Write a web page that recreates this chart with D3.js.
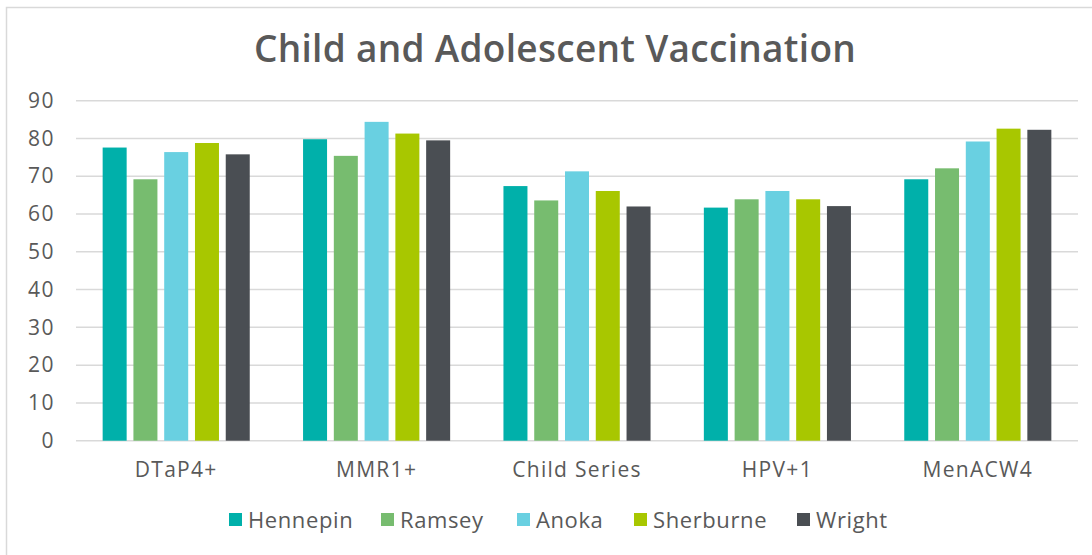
<!DOCTYPE html>
<html>
<head>
<meta charset="utf-8">
<script src="https://cdn.jsdelivr.net/npm/d3@7"></script>
<style>
  body { margin: 0; background: #fff; }
  svg text { font-family: 'Open Sans', 'Lato', sans-serif; fill: #595959; }
</style>
</head>
<body>
<svg id="chart" width="1092" height="555"></svg>
<script>
'use strict';

// chart data
const categories = ['DTaP4+', 'MMR1+', 'Child Series', 'HPV+1', 'MenACW4'];
const counties = ['Hennepin', 'Ramsey', 'Anoka', 'Sherburne', 'Wright'];
const hennepin = [77.6, 79.8, 67.4, 61.7, 69.2];
const ramsey = [69.2, 75.4, 63.6, 63.9, 72.1];
const anoka = [76.4, 84.4, 71.3, 66.1, 79.2];
const sherburne = [78.8, 81.3, 66.1, 63.9, 82.6];
const wright = [75.8, 79.5, 62.0, 62.1, 82.3];
const yTicks = [0, 10, 20, 30, 40, 50, 60, 70, 80, 90];

const seriesValues = [hennepin, ramsey, anoka, sherburne, wright];
const colors = ['#00b0aa', '#77bc6f', '#69d0e1', '#a8c700', '#4a4e53'];

const svg = d3.select('#chart');
const margin = {left: 76, right: 14, top: 100.7, bottom: 114.3};
const width = 1092 - margin.left - margin.right;
const height = 555 - margin.top - margin.bottom;

// frame of the chart area
svg.append('path')
  .attr('d', 'M6.5,555 V7.5 H1092')
  .attr('fill', 'none')
  .attr('stroke', '#d9d9d9')
  .attr('stroke-width', 1.5);

svg.append('text')
  .attr('x', 555)
  .attr('y', 62)
  .attr('text-anchor', 'middle')
  .style('font-size', '37px')
  .style('font-weight', 600)
  .style('letter-spacing', '0.3px')
  .text('Child and Adolescent Vaccination');

const g = svg.append('g')
  .attr('transform', 'translate(' + margin.left + ',' + margin.top + ')');

const x0 = d3.scaleBand().domain(categories).range([0, width]).padding(0);
const x1 = d3.scaleBand()
  .domain(counties)
  .range([x0.bandwidth() * 0.133, x0.bandwidth() * 0.867])
  .paddingInner(0.22)
  .paddingOuter(0);
const y = d3.scaleLinear().domain([0, 90]).range([height, 0]);

// gridlines
g.selectAll('line.grid')
  .data(yTicks)
  .enter()
  .append('line')
  .attr('class', 'grid')
  .attr('x1', 0)
  .attr('x2', width)
  .attr('y1', function(d) { return y(d); })
  .attr('y2', function(d) { return y(d); })
  .attr('stroke', '#d9d9d9')
  .attr('stroke-width', 1.5);

// y axis labels
const yAxis = g.append('g').call(d3.axisLeft(y).tickValues(yTicks).tickSize(0).tickPadding(21));
yAxis.select('.domain').remove();
yAxis.selectAll('text')
  .style('font-size', '21px')
  .style('letter-spacing', '1.5px')
  .attr('fill', '#595959');

// bars
const groups = g.selectAll('g.cat')
  .data(categories)
  .enter()
  .append('g')
  .attr('class', 'cat')
  .attr('transform', function(d) { return 'translate(' + x0(d) + ',0)'; });

groups.selectAll('rect')
  .data(function(d, i) {
    return counties.map(function(c, j) {
      return {county: c, value: seriesValues[j][i], color: colors[j]};
    });
  })
  .enter()
  .append('rect')
  .attr('x', function(d) { return x1(d.county); })
  .attr('width', x1.bandwidth())
  .attr('y', function(d) { return y(d.value); })
  .attr('height', function(d) { return height - y(d.value); })
  .attr('fill', function(d) { return d.color; });

// x axis labels
const xAxis = g.append('g')
  .attr('transform', 'translate(0,' + height + ')')
  .call(d3.axisBottom(x0).tickSize(0).tickPadding(21));
xAxis.select('.domain').remove();
xAxis.selectAll('text')
  .style('font-size', '21px')
  .style('letter-spacing', '1.3px')
  .attr('fill', '#595959');

// legend
const legendX = [229, 381, 517, 634, 797];
const legend = svg.selectAll('g.legend')
  .data(counties)
  .enter()
  .append('g')
  .attr('class', 'legend')
  .attr('transform', function(d, i) { return 'translate(' + legendX[i] + ',513)'; });

legend.append('rect')
  .attr('width', 13)
  .attr('height', 13)
  .attr('fill', function(d, i) { return colors[i]; });

legend.append('text')
  .attr('x', 19)
  .attr('y', 15)
  .style('font-size', '22px')
  .style('letter-spacing', '0.6px')
  .text(function(d) { return d; });
</script>
</body>
</html>
